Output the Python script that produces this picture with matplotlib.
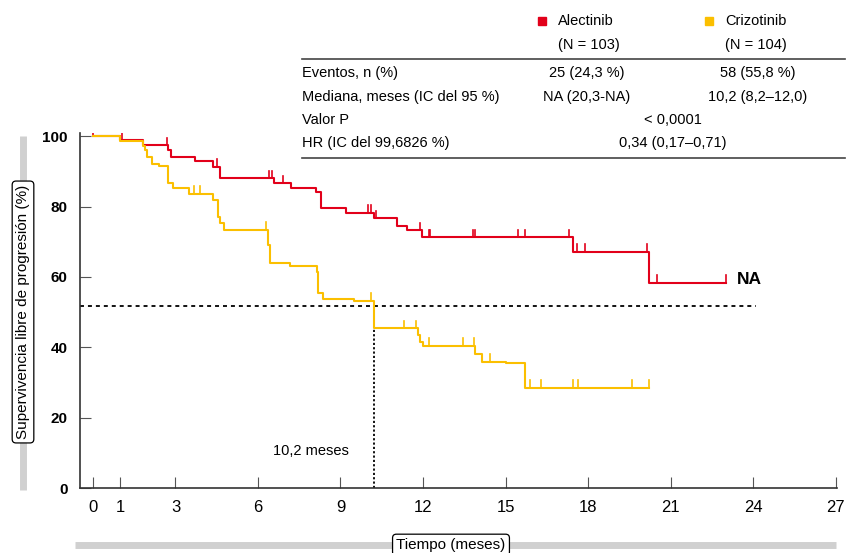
"""
Kaplan-Meier PFS: Alectinib vs Crizotinib
"""

import numpy as np
import matplotlib
matplotlib.use("Agg")
import matplotlib.pyplot as plt

plt.rcParams["font.family"] = ["Liberation Sans", "DejaVu Sans"]

# Alectinib step curve (time in months, survival in %)
alec_t = [0, 1.0, 1.83, 2.74, 2.85, 3.7, 4.37, 4.62, 6.6, 7.2, 8.1, 8.3, 9.2,
          10.2, 11.05, 11.4, 11.95, 17.45, 20.2, 23.0]
alec_s = [100, 98.9, 97.4, 96.0, 94.1, 93.0, 91.3, 88.0, 86.6, 85.2, 84.2, 79.5,
          78.1, 76.6, 74.6, 73.2, 71.2, 67.1, 58.3, 58.3]
alec_cens = [0.0, 1.05, 2.7, 4.5, 6.4, 6.5, 6.9, 10.0, 10.1, 10.3, 11.9, 12.2,
             12.25, 13.8, 13.9, 15.45, 15.7, 17.3, 17.6, 17.9, 20.15, 20.5, 23.0]

# Crizotinib step curve
criz_t = [0, 1.0, 1.83, 1.9, 1.95, 2.13, 2.4, 2.74, 2.92, 3.5, 4.37, 4.56, 4.62,
          4.75, 6.35, 6.45, 7.15, 8.15, 8.2, 8.35, 9.5, 10.2, 11.8, 11.9, 12.0,
          13.9, 14.15, 15.0, 15.7, 20.2]
criz_s = [100, 98.6, 97.2, 96.0, 94.1, 92.0, 91.6, 86.6, 85.3, 83.7, 81.8, 77.0,
          75.2, 73.3, 69.0, 64.0, 63.2, 61.5, 55.4, 53.7, 53.2, 45.4, 43.5, 41.6,
          40.3, 38.1, 35.9, 35.6, 28.5, 28.5]
criz_cens = [3.67, 3.89, 6.3, 10.1, 11.3, 11.75, 12.2, 13.45, 13.85, 14.45, 15.9,
             16.3, 17.45, 17.65, 19.6, 20.2]

xticks = [0, 1, 3, 6, 9, 12, 15, 18, 21, 24, 27]
yticks = [0, 20, 40, 60, 80, 100]

median_crz = 10.2
median_level = 51.7

RED = "#e2001a"
YEL = "#fbbf00"


def step_value(t, times, surv):
    idx = np.searchsorted(times, t, side="right") - 1
    return surv[max(idx, 0)]


def draw_curve(ax, times, surv, cens, color):
    ax.step(times, surv, where="post", color=color, lw=1.5, zorder=3)
    for c in cens:
        s = step_value(c, times, surv)
        ax.plot([c, c], [s, s + 2.2], color=color, lw=1.2, zorder=3)


fig = plt.figure(figsize=(8.47, 5.53), dpi=100)
ax = fig.add_axes([80 / 847, 1 - 488 / 553, 757 / 847, 355 / 553])

draw_curve(ax, alec_t, alec_s, alec_cens, RED)
draw_curve(ax, criz_t, criz_s, criz_cens, YEL)

# median lines
ax.plot([-0.47, 24.1], [median_level, median_level], color="black", lw=1.3,
        ls=(0, (2.2, 2.2)), zorder=2)
ax.plot([median_crz, median_crz], [0, median_level], color="black", lw=1.3,
        ls=(0, (1.2, 1.2)), zorder=2)
ax.text(9.3, 10.5, "10,2 meses", ha="right", va="center", fontsize=10.5)
ax.text(23.4, 59.2, "NA", ha="left", va="center", fontsize=12.5, fontweight="bold")

ax.set_xlim(-0.47, 27.05)
ax.set_ylim(0, 100.9)
ax.set_xticks(xticks)
ax.set_yticks(yticks)
ax.set_yticklabels([str(v) for v in yticks], fontweight="bold", fontsize=11)
ax.set_xticklabels([str(v) for v in xticks], fontsize=12)
ax.tick_params(axis="both", direction="in", length=8, color="#555555")
ax.tick_params(axis="x", pad=9)
ax.tick_params(axis="y", pad=9)
for side in ["top", "right"]:
    ax.spines[side].set_visible(False)
for side in ["left", "bottom"]:
    ax.spines[side].set_color("#333333")
    ax.spines[side].set_linewidth(1.2)

# overlay in pixel coordinates for table, legend and axis label boxes
ov = fig.add_axes([0, 0, 1, 1], zorder=5)
ov.set_xlim(0, 847)
ov.set_ylim(553, 0)
ov.axis("off")
ov.patch.set_alpha(0)

# axis titles with grey bars
ov.plot([23, 23], [136, 490], color="#d0d0d0", lw=5, solid_capstyle="butt", zorder=1)
ov.text(23, 312, "Supervivencia libre de progresión (%)", rotation=90, ha="center",
        va="center", fontsize=11, zorder=2,
        bbox=dict(boxstyle="round,pad=0.25", fc="white", ec="black", lw=0.9))
ov.plot([75, 836], [545, 545], color="#d0d0d0", lw=5, solid_capstyle="butt", zorder=1)
ov.text(451, 545, "Tiempo (meses)", ha="center", va="center", fontsize=11, zorder=2,
        bbox=dict(boxstyle="round,pad=0.25", fc="white", ec="black", lw=0.9))

# legend header
ov.plot([542], [21], marker="s", ms=6, color=RED, ls="none")
ov.text(558, 21, "Alectinib", ha="left", va="center", fontsize=10.5)
ov.text(558, 45, "(N = 103)", ha="left", va="center", fontsize=10.5)
ov.plot([709], [21], marker="s", ms=6, color=YEL, ls="none")
ov.text(725, 21, "Crizotinib", ha="left", va="center", fontsize=10.5)
ov.text(725, 45, "(N = 104)", ha="left", va="center", fontsize=10.5)

# table
ov.plot([302, 845], [59, 59], color="#444444", lw=1.2)
ov.plot([302, 845], [158, 158], color="#444444", lw=1.2)
row_y = [73, 97, 120, 143]
labels = ["Eventos, n (%)", "Mediana, meses (IC del 95 %)", "Valor P",
          "HR (IC del 99,6826 %)"]
alec_col = ["25 (24,3 %)", "NA (20,3-NA)"]
criz_col = ["58 (55,8 %)", "10,2 (8,2–12,0)"]
merged = ["< 0,0001", "0,34 (0,17–0,71)"]
for y, lab in zip(row_y, labels):
    ov.text(302, y, lab, ha="left", va="center", fontsize=10.5)
for y, a, c in zip(row_y[:2], alec_col, criz_col):
    ov.text(587, y, a, ha="center", va="center", fontsize=10.5)
    ov.text(758, y, c, ha="center", va="center", fontsize=10.5)
for y, m in zip(row_y[2:], merged):
    ov.text(673, y, m, ha="center", va="center", fontsize=10.5)

fig.savefig("out.png", dpi=100)
